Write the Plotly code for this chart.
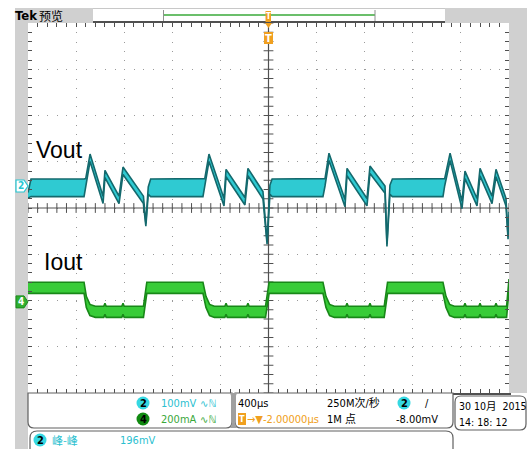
import plotly.graph_objects as go
import numpy as np

# ---------------- data ----------------
# time in microseconds (400 us/div, trigger at centre)
vout_t = [-2000, -1975, -1534, -1520, -1484, -1376, -1360, -1243, -1210, -1040, -1020, -1000, -980,
          -545, -530, -495, -370, -353, -196, -171, -46, -12, 12, 30,
          453, 470, 503, 636, 653, 819, 844, 969, 985, 1010, 1030,
          1451, 1465, 1510, 1609, 1634, 1734, 1759, 1859, 1892, 1975, 1992, 2000]
# Vout centre of the trace band (mV, relative to channel-2 ground marker)
vout_mid = [-20, -4, -4, 8, 61, -30, 26, -30, 33, -30, -84, -10, -4,
            -4, 8, 61, -35, 28, -33, 30, -20, -123, -8, -4,
            -4, 8, 63, -37, 30, -35, 35, -8, -128, -8, -4,
            -4, 8, 63, -41, 24, -35, 30, -30, 28, -35, -112, -60]
# half thickness of the noisy band (mV)
vout_half = [6, 19, 19, 8, 8, 8, 8, 8, 8, 8, 3, 8, 19,
             19, 8, 8, 8, 8, 8, 8, 8, 3, 10, 19,
             19, 8, 8, 8, 8, 8, 8, 8, 3, 10, 19,
             19, 8, 8, 8, 8, 8, 8, 8, 8, 8, 3, 4]

iout_t = [-2000, -1534, -1515, -1485, -1440, -1370, -1360, -1350, -1220, -1210, -1200, -1040, -1012,
          -545, -520, -490, -450, -363, -353, -343, -181, -171, -161, -25, 5,
          453, 478, 508, 548, 643, 653, 663, 834, 844, 854, 962, 990,
          1451, 1476, 1506, 1546, 1624, 1634, 1644, 1749, 1759, 1769, 1882, 1892, 1902, 1980, 2000]
# Iout centre (mA, relative to channel-4 ground marker)
iout_mid = [61, 61, 0, -35, -43, -43, -30, -43, -43, -30, -43, -43, 61,
            61, 0, -35, -43, -43, -30, -43, -43, -30, -43, -43, 61,
            61, 0, -35, -43, -43, -30, -43, -43, -30, -43, -43, 61,
            61, 0, -35, -43, -43, -30, -43, -43, -30, -43, -43, -30, -43, -43, 75]
iout_half = [24] * len(iout_t)

vout_scale, vout_offset = 100.0, 0.476   # mV/div, div
iout_scale, iout_offset = 200.0, -2.03   # mA/div, div

ch2_scale_txt, ch4_scale_txt = "100mV", "200mA"
timebase_txt, trig_pos_txt = "400µs", "-2.00000µs"
rate_txt, points_txt, trig_lvl_txt = "250M次/秒", "1M 点", "-8.00mV"
date_txt, time_txt = "30 10月  2015", "14: 18: 12"
meas_name, meas_val = "峰-峰", "196mV"

# ---------------- geometry ----------------
W, H = 527, 449
L, R, T, B = 28, 509, 23, 393


def px(x):
    return (x - L) / (R - L)


def py(y):
    return (B - y) / (B - T)


FONT = "Liberation Sans Narrow, DejaVu Sans Condensed, Noto Sans CJK SC, sans-serif"
CJK = "Liberation Sans Narrow, DejaVu Sans Condensed, Noto Sans CJK SC, sans-serif"
CYAN = "#26c6d2"
CYAN_TXT = "#2bbfd0"
GREEN_TXT = "#3aa83a"
ORANGE = "#f0a020"
GREY = "#d0d0d0"
FRAME = "#505050"

fig = go.Figure()

# centre cross tick marks
fig.add_trace(go.Scatter(x=[0] * 41, y=np.arange(-4, 4.01, 0.2), mode="markers",
                         marker=dict(symbol="line-ew", size=7, line=dict(width=1, color=FRAME)),
                         hoverinfo="skip", showlegend=False))
fig.add_trace(go.Scatter(x=np.arange(-2000, 2001, 80), y=[0] * 51, mode="markers",
                         marker=dict(symbol="line-ns", size=7, line=dict(width=1, color=FRAME)),
                         hoverinfo="skip", showlegend=False))


def band(t, mid, half, scale, off, fill, edge):
    lo = [off + (m - h) / scale for m, h in zip(mid, half)]
    hi = [off + (m + h) / scale for m, h in zip(mid, half)]
    fig.add_trace(go.Scatter(x=t, y=lo, mode="lines", line=dict(color=edge, width=1.6),
                             hoverinfo="skip", showlegend=False))
    fig.add_trace(go.Scatter(x=t, y=hi, mode="lines", line=dict(color=edge, width=1.6),
                             fill="tonexty", fillcolor=fill, hoverinfo="skip", showlegend=False))


band(vout_t, vout_mid, vout_half, vout_scale, vout_offset, "#2fcad2", "#14696d")
band(iout_t, iout_mid, iout_half, iout_scale, iout_offset, "#38cc38", "#188818")

shapes = []
# centre cross lines
shapes.append(dict(type="line", xref="x", yref="y", x0=0, x1=0, y0=-4, y1=4,
                   line=dict(color=FRAME, width=1.2), layer="between"))
shapes.append(dict(type="line", xref="x", yref="y", x0=-2000, x1=2000, y0=0, y1=0,
                   line=dict(color=FRAME, width=1.2), layer="between"))


def rect(x0, y0, x1, y1, fill, line=None, layer="above"):
    shapes.append(dict(type="rect", xref="paper", yref="paper", x0=px(x0), x1=px(x1),
                       y0=py(y1), y1=py(y0), fillcolor=fill,
                       line=dict(width=0 if line is None else 1, color=line or fill),
                       layer=layer))


def rounded(x0, y0, x1, y1, r, color, corners="abcd"):
    tl = "a" in corners
    tr = "b" in corners
    br = "c" in corners
    bl = "d" in corners

    def P(x, y):
        return f"{px(x):.5f},{py(y):.5f}"
    path = "M " + P(x0 + (r if tl else 0), y0)
    path += " L " + P(x1 - (r if tr else 0), y0)
    if tr:
        path += " Q " + P(x1, y0) + " " + P(x1, y0 + r)
    path += " L " + P(x1, y1 - (r if br else 0))
    if br:
        path += " Q " + P(x1, y1) + " " + P(x1 - r, y1)
    path += " L " + P(x0 + (r if bl else 0), y1)
    if bl:
        path += " Q " + P(x0, y1) + " " + P(x0, y1 - r)
    path += " L " + P(x0, y0 + (r if tl else 0))
    if tl:
        path += " Q " + P(x0, y0) + " " + P(x0 + r, y0)
    path += " Z"
    shapes.append(dict(type="path", xref="paper", yref="paper", path=path,
                       fillcolor="white", line=dict(color=color, width=1.2)))


# outer grey chrome
rect(15, 8, 28, 449, GREY)
rect(15, 8, 93, 23, GREY)
rect(445, 8, 527, 23, GREY)
rect(509, 8, 527, 393, GREY)
shapes.append(dict(type="line", xref="paper", yref="paper", x0=px(93), x1=px(445), y0=py(8.5), y1=py(8.5),
                   line=dict(color="#c8c8c8", width=1)))
# record view bar
shapes.append(dict(type="line", xref="paper", yref="paper", x0=px(164), x1=px(375), y0=py(15), y1=py(15),
                   line=dict(color="#3aaa3a", width=1.5)))
for xb in (163.5, 375):
    shapes.append(dict(type="line", xref="paper", yref="paper", x0=px(xb), x1=px(xb), y0=py(10), y1=py(21),
                       line=dict(color="#909090", width=1)))
# trigger position markers
rect(265.5, 11, 271, 22, ORANGE)
shapes.append(dict(type="path", xref="paper", yref="paper",
                   path=f"M {px(265):.5f},{py(23):.5f} L {px(272):.5f},{py(23):.5f} L {px(268.5):.5f},{py(28):.5f} Z",
                   fillcolor=ORANGE, line=dict(width=0)))
rect(264, 32, 273, 44, ORANGE)

# bottom info boxes
rounded(28, 393, 232, 428, 6, "#606060", corners="cd")
rounded(235, 393, 453, 428, 6, "#606060", corners="cd")
shapes.append(dict(type="path", xref="paper", yref="paper",
                   path=f"M {px(230):.5f},{py(393):.5f} L {px(237):.5f},{py(393):.5f} L {px(234.5):.5f},{py(400):.5f} "
                        f"L {px(234.5):.5f},{py(422):.5f} L {px(237):.5f},{py(428):.5f} L {px(230):.5f},{py(428):.5f} "
                        f"L {px(232.5):.5f},{py(422):.5f} L {px(232.5):.5f},{py(400):.5f} Z",
                   fillcolor="#a0a0a0", line=dict(width=0)))
rounded(455, 396, 526, 430, 6, "#606060", corners="abcd")
rounded(30, 431, 453, 460, 7, "#606060", corners="ab")

annotations = []


def badge(cx, cy, fill, txt, tcol="black"):
    shapes.append(dict(type="circle", xref="paper", yref="paper", x0=px(cx - 6.5), x1=px(cx + 6.5),
                       y0=py(cy + 6.5), y1=py(cy - 6.5), fillcolor=fill, line=dict(width=0)))
    annotations.append(dict(x=px(cx), y=py(cy), xref="paper", yref="paper", text=f"<b>{txt}</b>",
                            showarrow=False, font=dict(family=FONT, size=11, color=tcol),
                            xanchor="center", yanchor="middle"))


def text(x, y, s, color="black", size=11, anchor="left", family=FONT):
    annotations.append(dict(x=px(x), y=py(y), xref="paper", yref="paper", text=s, showarrow=False,
                            font=dict(family=family, size=size, color=color),
                            xanchor=anchor, yanchor="middle", borderpad=0))


# header
text(14, 15.5, "<b>Tek</b>", size=13, family="Liberation Sans Narrow, DejaVu Sans Condensed")
text(38, 15.5, "预览", size=12, family="Noto Sans CJK SC")
annotations.append(dict(x=px(268.2), y=py(16.5), xref="paper", yref="paper", text="<b>T</b>", showarrow=False,
                        font=dict(family=FONT, size=8, color="white"), xanchor="center", yanchor="middle"))
annotations.append(dict(x=px(268.5), y=py(38), xref="paper", yref="paper", text="<b>T</b>", showarrow=False,
                        font=dict(family=FONT, size=11, color="white"), xanchor="center", yanchor="middle"))

# waveform labels
text(35, 150, "Vout", size=23, family="Liberation Sans, Arial")
text(43, 262, "Iout", size=23, family="Liberation Sans, Arial")

# channel ground markers (placed at the channel offsets)
y2 = (B + T) / 2 - vout_offset * (B - T) / 8
y4 = (B + T) / 2 - iout_offset * (B - T) / 8
shapes.append(dict(type="path", xref="paper", yref="paper",
                   path=f"M {px(16):.5f},{py(y2-6):.5f} L {px(24):.5f},{py(y2-6):.5f} L {px(28):.5f},{py(y2):.5f} "
                        f"L {px(24):.5f},{py(y2+6):.5f} L {px(16):.5f},{py(y2+6):.5f} Z",
                   fillcolor="white", line=dict(color=CYAN, width=1.2)))
annotations.append(dict(x=px(20.5), y=py(y2), xref="paper", yref="paper", text="<b>2</b>", showarrow=False,
                        font=dict(family=FONT, size=10, color=CYAN), xanchor="center", yanchor="middle"))
shapes.append(dict(type="path", xref="paper", yref="paper",
                   path=f"M {px(16):.5f},{py(y4-6):.5f} L {px(24):.5f},{py(y4-6):.5f} L {px(28):.5f},{py(y4):.5f} "
                        f"L {px(24):.5f},{py(y4+6):.5f} L {px(16):.5f},{py(y4+6):.5f} Z",
                   fillcolor="#2fae2f", line=dict(color="#1c8a1c", width=1)))
annotations.append(dict(x=px(20.5), y=py(y4), xref="paper", yref="paper", text="<b>4</b>", showarrow=False,
                        font=dict(family=FONT, size=10, color="white"), xanchor="center", yanchor="middle"))

# info panel contents
badge(143, 403, "#35d8e2", "2")
text(160, 403, ch2_scale_txt, CYAN_TXT)
text(199, 403, "∿ℕ", CYAN_TXT, size=10, family="DejaVu Sans")
badge(143, 419, "#118a11", "4")
text(160, 419, ch4_scale_txt, GREEN_TXT)
text(199, 419, "∿ℕ", GREEN_TXT, size=10, family="DejaVu Sans")

text(237, 403, timebase_txt)
rect(238, 413, 246, 425, ORANGE)
annotations.append(dict(x=px(242), y=py(419), xref="paper", yref="paper", text="<b>T</b>", showarrow=False,
                        font=dict(family=FONT, size=9, color="white"), xanchor="center", yanchor="middle"))
text(246, 419, "→▼" + trig_pos_txt, ORANGE)
text(326, 403, rate_txt, family=CJK)
text(326, 419, points_txt, family=CJK)
badge(404, 403, "#35d8e2", "2")
text(424, 403, "/", size=11)
text(395, 419, trig_lvl_txt)

text(458, 406, date_txt, size=10.5, family=CJK)
text(458, 422, time_txt, size=10.5)

badge(40, 440, "#35d8e2", "2")
text(51, 440, meas_name, CYAN_TXT, family="Noto Sans CJK SC")
text(119, 440, meas_val, CYAN_TXT)

fig.update_layout(
    width=W, height=H,
    margin=dict(l=L, r=W - R, t=T, b=H - B, pad=0),
    paper_bgcolor="white", plot_bgcolor="white",
    shapes=shapes, annotations=annotations,
    showlegend=False,
    xaxis=dict(range=[-2000, 2000], showgrid=True, gridcolor="#9a9a9a", griddash="1px,8.25px",
               gridwidth=1, dtick=400, tick0=-2000, zeroline=False,
               showline=True, linecolor=FRAME, linewidth=1.5, mirror=True,
               showticklabels=False, ticks=""),
    yaxis=dict(range=[-4, 4], showgrid=True, gridcolor="#9a9a9a", griddash="1px,8.62px",
               gridwidth=1, dtick=1, tick0=-4, zeroline=False,
               showline=True, linecolor=FRAME, linewidth=1.5, mirror=True,
               showticklabels=False, ticks=""),
    xaxis2=dict(range=[-2000, 2000], overlaying="x", anchor="y", side="bottom", dtick=80, tick0=-2000,
                ticks="inside", ticklen=4, tickcolor=FRAME, tickwidth=1, showgrid=False,
                showticklabels=False, zeroline=False, mirror="allticks", showline=False),
    yaxis2=dict(range=[-4, 4], overlaying="y", anchor="x", side="left", dtick=0.2, tick0=-4,
                ticks="inside", ticklen=4, tickcolor=FRAME, tickwidth=1, showgrid=False,
                showticklabels=False, zeroline=False, mirror="allticks", showline=False),
)
fig.add_trace(go.Scatter(x=[0], y=[0], xaxis="x2", yaxis="y2", mode="markers",
                         marker=dict(opacity=0), hoverinfo="skip", showlegend=False))

fig.write_html("out.html", config={"displayModeBar": False},
               post_script="document.body.style.margin='0';document.body.style.padding='0';")
